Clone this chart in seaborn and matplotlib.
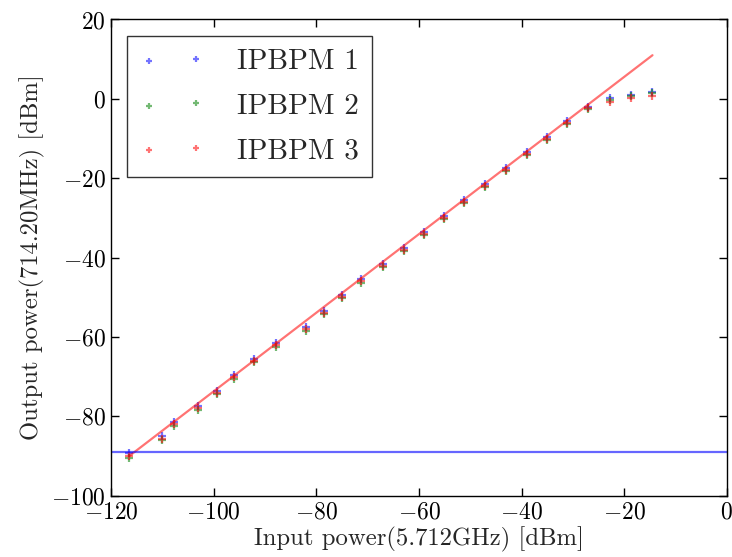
import numpy as np
import pandas as pd
import matplotlib
matplotlib.use("Agg")
import matplotlib.pyplot as plt
import seaborn as sns

#%% DATA
input_power = [-116.6, -110.1, -107.7, -103.0, -99.4, -96.0, -92.1, -87.8, -82.1,
               -78.5, -75.1, -71.3, -67.0, -63.0, -59.1, -55.1, -51.2, -47.1,
               -43.0, -39.0, -35.1, -31.1, -27.0, -22.7, -18.7, -14.5]
ipbpm1 = [-89.2, -85.0, -81.4, -77.5, -73.5, -69.6, -65.6, -61.6, -57.6, -53.5,
          -49.5, -45.5, -41.6, -37.5, -33.5, -29.4, -25.5, -21.4, -17.4, -13.4,
          -9.5, -5.6, -2.0, 0.3, 1.1, 1.7]
ipbpm2 = [-90.4, -86.0, -82.5, -78.4, -74.4, -70.5, -66.4, -62.4, -58.4, -54.3,
          -50.3, -46.3, -42.4, -38.3, -34.3, -30.2, -26.3, -22.2, -18.2, -14.2,
          -10.3, -6.4, -2.6, -0.2, 0.8, 1.4]
ipbpm3 = [-90.1, -85.7, -82.0, -78.0, -74.1, -70.2, -66.1, -62.1, -58.1, -54.0,
          -50.0, -46.0, -42.1, -38.0, -34.0, -29.9, -26.0, -21.9, -17.9, -13.9,
          -10.0, -6.0, -2.4, -0.7, 0.3, 0.8]
fit_x = [-116.5, -14.5]
fit_y = [-90.0, 11.0]
noise_floor = -89.0

series = {"IPBPM 1": (ipbpm1, "#0000ff"),
          "IPBPM 2": (ipbpm2, "#008000"),
          "IPBPM 3": (ipbpm3, "#ff0000")}

#%% STYLE
sns.set_style("ticks", {"xtick.direction": "in", "ytick.direction": "in"})
plt.rcParams["font.family"] = ["cmr10", "DejaVu Serif"]
plt.rcParams["mathtext.fontset"] = "cm"
plt.rcParams["axes.formatter.use_mathtext"] = True
plt.rcParams["axes.unicode_minus"] = True

#%% PLOT
fig, ax = plt.subplots(figsize=(7.32, 5.57), dpi=100)
fig.subplots_adjust(left=0.152, right=0.993, bottom=0.11, top=0.965)

handles = []
for name, (vals, col) in series.items():
    df = pd.DataFrame({"x": input_power, "y": vals})
    sns.scatterplot(data=df, x="x", y="y", ax=ax, marker="+", color=col,
                    s=40, linewidth=1.6, alpha=0.55, label=name, legend=False)
    handles.append(ax.collections[-1])

sns.lineplot(x=fit_x, y=fit_y, ax=ax, color="#ff0000", alpha=0.55, linewidth=1.6)
ax.axhline(noise_floor, color="#0000ff", alpha=0.6, linewidth=1.6)

ax.set_xlim(-120, 0)
ax.set_ylim(-100, 20)
ax.set_xticks(np.arange(-120, 1, 20))
ax.set_yticks(np.arange(-100, 21, 20))
ax.tick_params(axis="both", which="both", top=True, right=True, length=6,
               width=1, labelsize=17, pad=4, colors="black")
for sp in ax.spines.values():
    sp.set_color("black")
    sp.set_linewidth(1)

ax.set_xlabel("Input power(5.712GHz) [dBm]", fontsize=17.8, labelpad=2)
ax.set_ylabel("Output power(714.20MHz) [dBm]", fontsize=17.8, labelpad=4)

leg = ax.legend(handles, list(series.keys()), loc="upper left", scatterpoints=2,
                fontsize=21, frameon=True, fancybox=False, borderaxespad=0.55,
                handlelength=2.2, handletextpad=1.1, labelspacing=0.62,
                borderpad=0.45, markerscale=0.7)
leg.get_frame().set_edgecolor("black")
leg.get_frame().set_linewidth(1)

fig.savefig("out.png", dpi=100)
